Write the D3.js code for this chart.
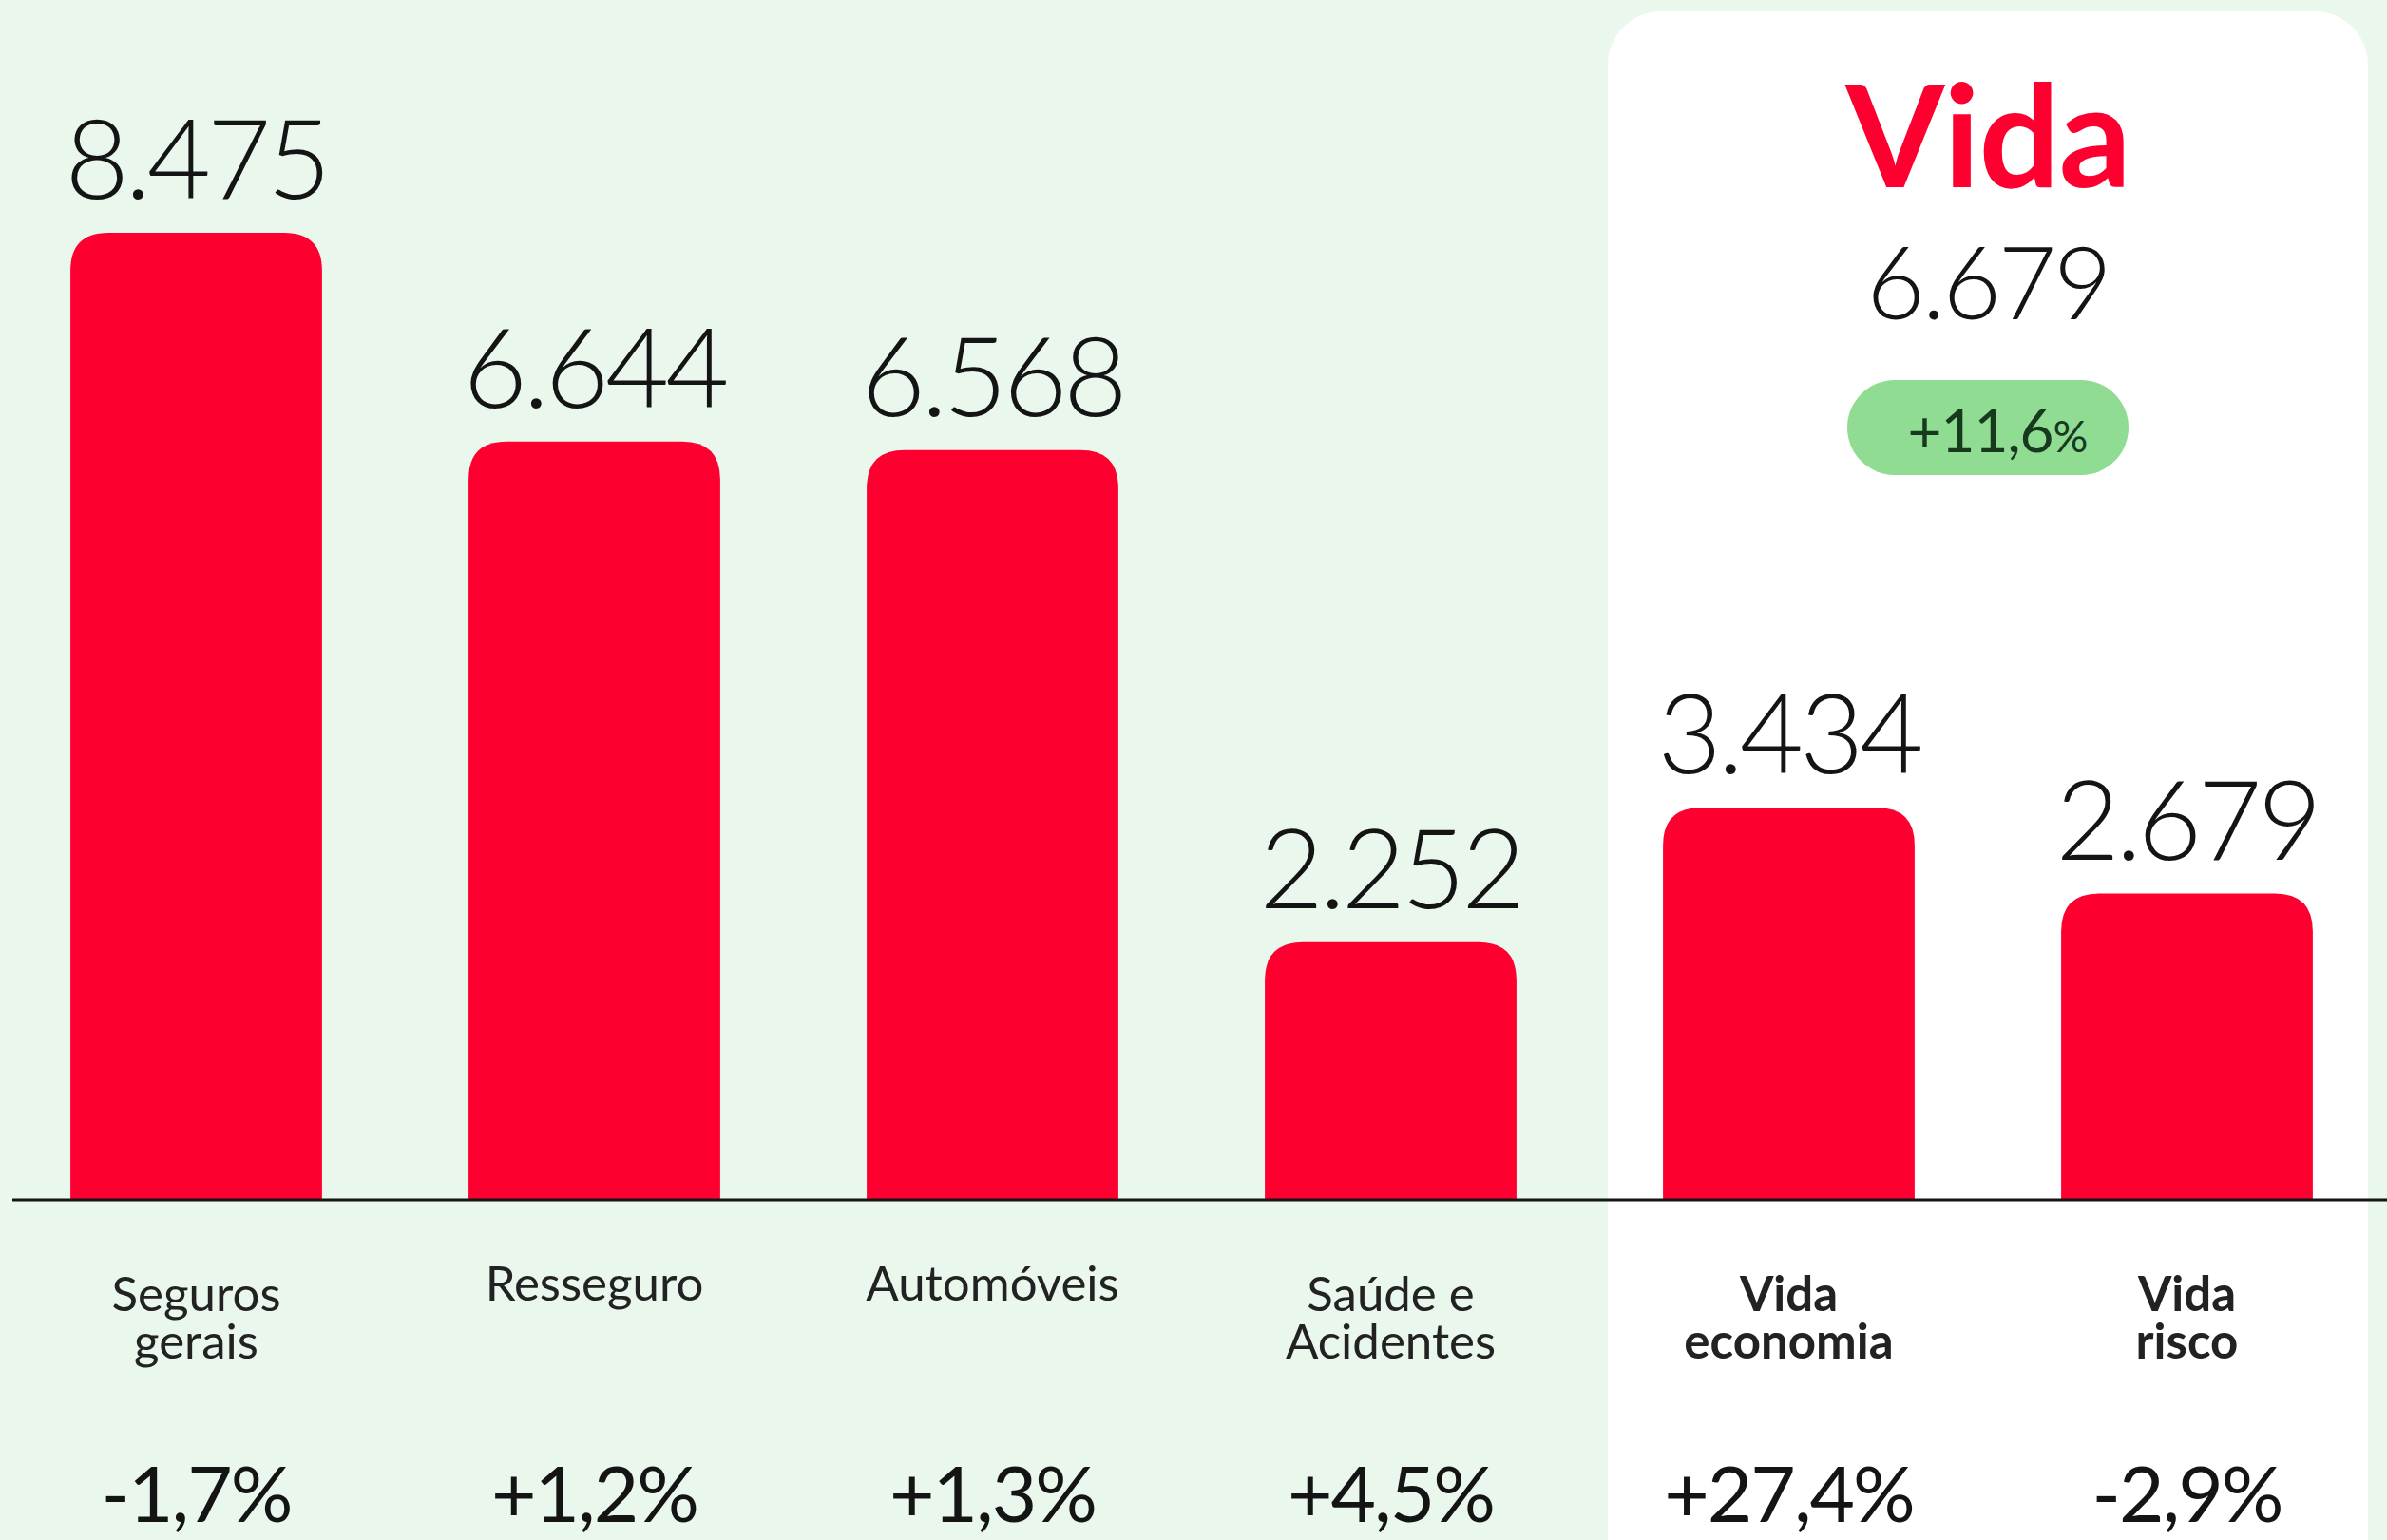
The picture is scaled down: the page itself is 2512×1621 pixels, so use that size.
<!DOCTYPE html>
<html>
<head>
<meta charset="utf-8">
<script src="https://cdn.jsdelivr.net/npm/d3@7"></script>
<style>
	body { margin: 0; background: #e9f7ed; }
	text { font-family: Lato, "Noto Sans", sans-serif; }
</style>
</head>
<body>
<div id="chart"></div>
<script>
//Data
var categories = ["Seguros\ngerais", "Resseguro", "Automóveis", "Saúde e\nAcidentes", "Vida\neconomia", "Vida\nrisco"];
var values = [8475, 6644, 6568, 2252, 3434, 2679];
var changes = [-1.7, 1.2, 1.3, 4.5, 27.4, -2.9];
var vidaCategories = ["Vida\neconomia", "Vida\nrisco"];
var vidaTitle = "Vida";
var vidaTotal = 6679;
var vidaChange = 11.6;

var data = categories.map(function(c, i) {
	return { cat: c, value: values[i], change: changes[i] };
});

//SVG setup
var width = 2512;
var height = 1621;
var baseY = 1262;
var red = "#fd0030";

var svg = d3.select("#chart")
	.append("svg")
	.attr("width", width)
	.attr("height", height);

//Portuguese number formats
var pt = d3.formatLocale({ decimal: ",", thousands: ".", grouping: [3], currency: ["", "€"], minus: "-" });
var fmtValue = pt.format(",d");
var fmtChange = pt.format("+.1f");

//Scales
var x = d3.scaleBand()
	.domain(categories)
	.range([-3, 2511])
	.paddingInner(0.368)
	.paddingOuter(0.184);

var y = d3.scaleLinear()
	.domain([0, 8475])
	.range([baseY, 245]);

//White panel behind the Vida bars
var pad = 58;
var panelX0 = x(vidaCategories[0]) - pad;
var panelX1 = x(vidaCategories[vidaCategories.length - 1]) + x.bandwidth() + pad;
svg.append("rect")
	.attr("x", panelX0)
	.attr("y", 12)
	.attr("width", panelX1 - panelX0)
	.attr("height", height + 100)
	.attr("rx", 56)
	.attr("fill", "#ffffff");

var panelCx = (panelX0 + panelX1) / 2;

svg.append("text")
	.attr("x", panelCx)
	.attr("y", 197)
	.attr("text-anchor", "middle")
	.attr("font-size", 150)
	.attr("font-weight", 700)
	.attr("letter-spacing", -1)
	.attr("fill", red)
	.text(vidaTitle);

svg.append("text")
	.attr("x", panelCx)
	.attr("y", 336)
	.attr("text-anchor", "middle")
	.attr("font-size", 106)
	.attr("font-weight", 300)
	.attr("letter-spacing", -3)
	.attr("fill", "#141414")
	.text(fmtValue(vidaTotal));

//green pill
svg.append("rect")
	.attr("x", panelCx - 148)
	.attr("y", 400)
	.attr("width", 296)
	.attr("height", 100)
	.attr("rx", 50)
	.attr("fill", "#8fdc92");

var pill = svg.append("text")
	.attr("x", panelCx + 10)
	.attr("y", 476)
	.attr("text-anchor", "middle")
	.attr("font-size", 62)
	.attr("letter-spacing", -1)
	.attr("fill", "#173a1e");
pill.append("tspan").text(fmtChange(vidaChange));
pill.append("tspan").attr("font-size", 46).text("%");

//Bars with rounded tops
var r = 40;
var barPath = function(d) {
	var x0 = x(d.cat), x1 = x0 + x.bandwidth(), y0 = y(d.value), y1 = y(0);
	return "M" + x0 + "," + y1 +
		"V" + (y0 + r) +
		"Q" + x0 + "," + y0 + " " + (x0 + r) + "," + y0 +
		"H" + (x1 - r) +
		"Q" + x1 + "," + y0 + " " + x1 + "," + (y0 + r) +
		"V" + y1 + "Z";
};

svg.selectAll(".bar")
	.data(data)
	.enter()
	.append("path")
	.attr("class", "bar")
	.attr("d", barPath)
	.attr("fill", red);

//value labels
svg.selectAll(".value")
	.data(data)
	.enter()
	.append("text")
	.attr("class", "value")
	.attr("x", function(d) { return x(d.cat) + x.bandwidth() / 2; })
	.attr("y", function(d) { return y(d.value) - 36; })
	.attr("text-anchor", "middle")
	.attr("font-size", 116)
	.attr("font-weight", 300)
	.attr("letter-spacing", -4)
	.attr("fill", "#141414")
	.text(function(d) { return fmtValue(d.value); });

//baseline
svg.append("line")
	.attr("x1", 13)
	.attr("x2", width)
	.attr("y1", baseY + 1)
	.attr("y2", baseY + 1)
	.attr("stroke", "#151515")
	.attr("stroke-width", 3);

//Category labels via the x axis
var axis = svg.append("g")
	.attr("class", "x axis")
	.attr("transform", "translate(0," + baseY + ")")
	.call(d3.axisBottom(x).tickSize(0).tickPadding(0));
axis.select(".domain").remove();

axis.selectAll(".tick text")
	.attr("fill", "#222")
	.attr("font-size", 51)
	.attr("font-weight", function(d) { return vidaCategories.indexOf(d) >= 0 ? 700 : 400; })
	.each(function(d) {
		var t = d3.select(this);
		var lines = d.split("\n");
		var top = lines.length > 1 ? 118 : 107;
		t.text(null).attr("y", null).attr("dy", null);
		lines.forEach(function(l, i) {
			t.append("tspan")
				.attr("x", 0)
				.attr("y", top + i * 50)
				.text(l);
		});
	});

//change labels
svg.selectAll(".change")
	.data(data)
	.enter()
	.append("text")
	.attr("class", "change")
	.attr("x", function(d) { return x(d.cat) + x.bandwidth() / 2; })
	.attr("y", 1602)
	.attr("text-anchor", "middle")
	.attr("font-size", 82)
	.attr("letter-spacing", -2)
	.attr("fill", "#141414")
	.text(function(d) { return fmtChange(d.change) + "%"; });
</script>
</body>
</html>
